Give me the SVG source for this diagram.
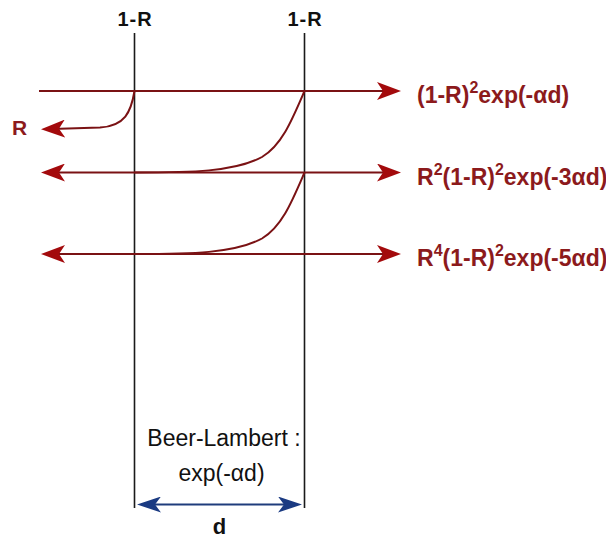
<svg xmlns="http://www.w3.org/2000/svg" width="606" height="539" viewBox="0 0 606 539">
<style>
.bg{fill:#ffffff}
.vline{stroke:#1a1a1a;stroke-width:1.6;fill:none}
.ray{stroke:#7a1214;stroke-width:2;fill:none}
.dim{stroke:#1f3c7c;stroke-width:2;fill:none}
.lab{font-family:"Liberation Sans",Arial,sans-serif;font-weight:bold;fill:#8c1a1c;font-size:23px}
.sup{font-size:16px}
.top{font-family:"Liberation Sans",Arial,sans-serif;font-weight:bold;fill:#111;font-size:20px;text-anchor:middle;letter-spacing:1px}
.note{font-family:"Liberation Sans",Arial,sans-serif;fill:#111;font-size:23px;text-anchor:middle}
.d{font-family:"Liberation Sans",Arial,sans-serif;font-weight:bold;fill:#111;font-size:22px;text-anchor:middle}
</style>
<defs>
<marker id="redArrow" markerUnits="userSpaceOnUse" markerWidth="24" markerHeight="18" refX="13" refY="9" orient="auto-start-reverse" viewBox="0 0 24 18">
<path d="M0,0 L24,9 L0,18 L6,9 Z" fill="#a30a0c"/>
</marker>
<marker id="blueArrow" markerUnits="userSpaceOnUse" markerWidth="24" markerHeight="16" refX="13" refY="8" orient="auto-start-reverse" viewBox="0 0 24 16">
<path d="M0,0 L24,8 L0,16 L6,8 Z" fill="#1a3a82"/>
</marker>
</defs>
<rect class="bg" x="0" y="0" width="606" height="539"/>

<g id="interface-left">
<line class="vline" x1="134.5" y1="33" x2="134.5" y2="508"/>
<text class="top" x="135" y="26">1-R</text>
</g>
<g id="interface-right">
<line class="vline" x1="304.5" y1="33" x2="304.5" y2="508"/>
<text class="top" x="305" y="26">1-R</text>
</g>

<g id="connectors">
<line class="ray" x1="39" y1="91" x2="390" y2="91" marker-end="url(#redArrow)"/>
<line class="ray" x1="52" y1="172.5" x2="390" y2="172.5" marker-start="url(#redArrow)" marker-end="url(#redArrow)"/>
<line class="ray" x1="52" y1="254" x2="390" y2="254" marker-start="url(#redArrow)" marker-end="url(#redArrow)"/>
<path class="ray" d="M134.5,91 C131,112 125,126 100,127.5 L52,129" marker-end="url(#redArrow)"/>
<path class="ray" d="M304.5,91 C292,120 282,145 262,157 C235,172 190,172.5 134.5,172.5"/>
<path class="ray" d="M304.5,172.5 C292,201.5 282,226.5 262,238.5 C235,253.5 190,254 134.5,254"/>
<line class="dim" x1="148" y1="504.5" x2="291" y2="504.5" marker-start="url(#blueArrow)" marker-end="url(#blueArrow)"/>
</g>

<g id="label-R">
<text class="lab" x="12" y="135" style="font-size:21px">R</text>
</g>
<g id="label-t1">
<text class="lab" x="417" y="102.5">(1-R)<tspan class="sup" dy="-10">2</tspan><tspan dy="10">exp(-αd)</tspan></text>
</g>
<g id="label-t2">
<text class="lab" x="417" y="185">R<tspan class="sup" dy="-10">2</tspan><tspan dy="10">(1-R)</tspan><tspan class="sup" dy="-10">2</tspan><tspan dy="10">exp(-3αd)</tspan></text>
</g>
<g id="label-t3">
<text class="lab" x="417" y="266">R<tspan class="sup" dy="-10">4</tspan><tspan dy="10">(1-R)</tspan><tspan class="sup" dy="-10">2</tspan><tspan dy="10">exp(-5αd)</tspan></text>
</g>
<g id="label-beer">
<text class="note" x="224" y="446">Beer-Lambert :</text>
<text class="note" x="221.5" y="481">exp(-αd)</text>
</g>
<g id="label-d">
<text class="d" x="219.5" y="534">d</text>
</g>
</svg>
